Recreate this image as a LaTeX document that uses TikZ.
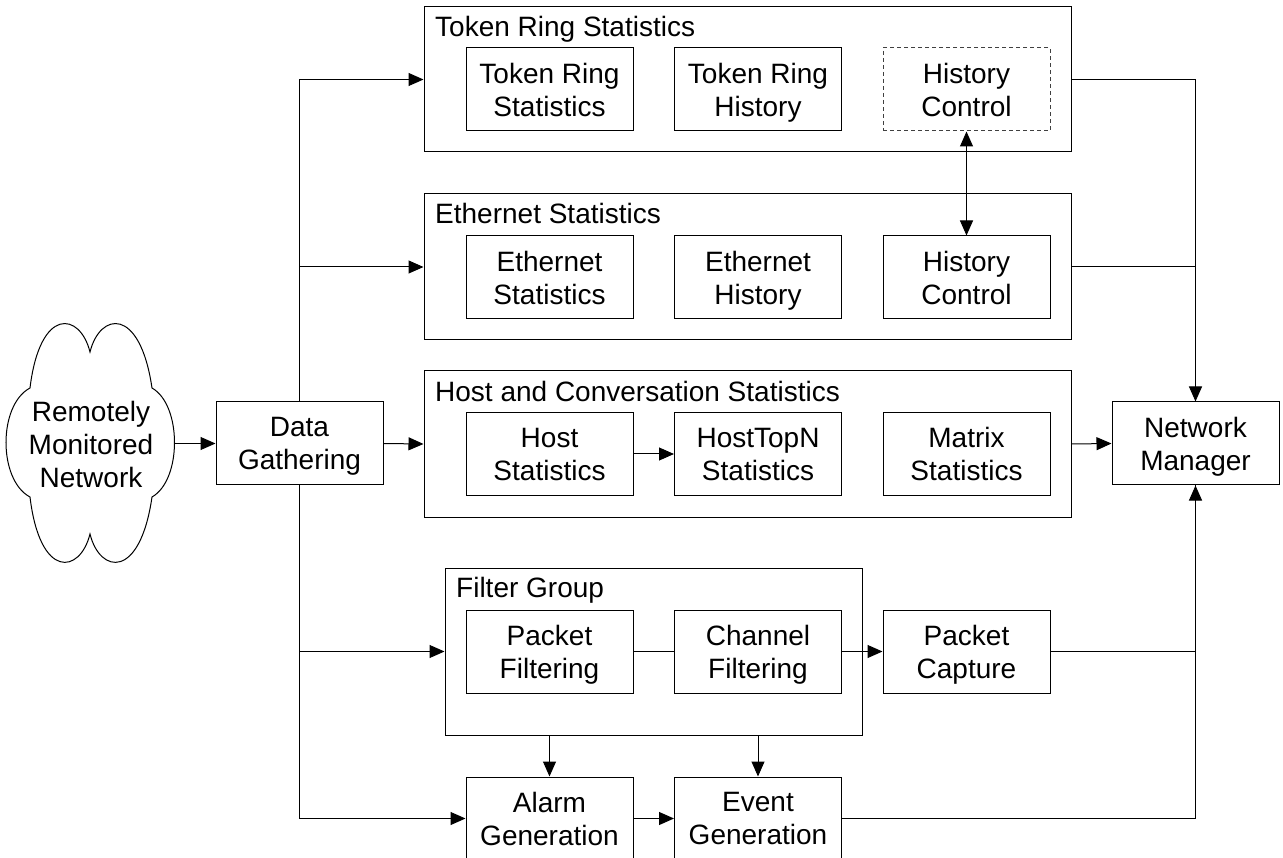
\documentclass[tikz,border=0pt]{standalone}
\usepackage{fontspec}
\setmainfont{Liberation Sans}
\usetikzlibrary{arrows.meta}
\begin{document}
\begin{tikzpicture}[x=1pt,y=-1pt,
  every node/.style={font=\fontsize{28pt}{33pt}\selectfont},
  line/.style={line width=1pt,draw=black},
  tip/.tip={Triangle[length=15pt,width=13pt]},
  arr/.style={line, -tip},
  inbox/.style={draw, line width=1pt, minimum width=167pt, minimum height=83pt, inner sep=0pt, align=center, text depth=0pt},
  dashbox/.style={inbox, draw=black!75, dash pattern=on 4pt off 3pt},
  outbox/.style={draw, line width=1pt, inner sep=0pt},
  ttl/.style={anchor=base west, inner sep=0pt},
]
\useasboundingbox (0,0) rectangle (1283,858);

% cloud
\draw[line] (90,352) .. controls (100,312) and (140,306) .. (152,388)
 .. controls (182,405) and (182,480) .. (152,497)
 .. controls (140,580) and (100,574) .. (90,534)
 .. controls (80,574) and (40,580) .. (30,497)
 .. controls (-2,480) and (-2,405) .. (30,388)
 .. controls (40,306) and (80,312) .. (90,352) -- cycle;
\node[align=center, inner sep=0pt, text depth=0pt] (cloud) at (91,444) {Remotely\\Monitored\\Network};
\coordinate (cloudr) at (174,443.5);

% outer boxes
\node[outbox, minimum width=647pt, minimum height=145pt] (tr) at (747.5,79.5) {};
\node[outbox, minimum width=647pt, minimum height=146pt] (eth) at (747.5,267) {};
\node[outbox, minimum width=647pt, minimum height=146pt] (host) at (747.5,444) {};
\node[outbox, minimum width=417pt, minimum height=167pt] (fg) at (653.5,651.5) {};

\node[ttl] (trt) at (435,37) {Token Ring Statistics};
\node[ttl] (etht) at (435,224) {Ethernet Statistics};
\node[ttl] (hostt) at (435,402) {Host and Conversation Statistics};
\node[ttl] (fgt) at (456,597) {Filter Group};

% inner boxes
\node[inbox] (trs) at (549.5,89.5) {Token Ring\\Statistics};
\node[inbox] (trh) at (758,89.5) {Token Ring\\History};
\node[dashbox] (trc) at (966.5,89.5) {History\\Control};

\node[inbox] (es) at (549.5,277.5) {Ethernet\\Statistics};
\node[inbox] (eh) at (758,277.5) {Ethernet\\History};
\node[inbox] (ec) at (966.5,277.5) {History\\Control};

\node[inbox] (hs) at (549.5,454) {Host\\Statistics};
\node[inbox] (htn) at (758,454) {HostTopN\\Statistics};
\node[inbox] (ms) at (966.5,454) {Matrix\\Statistics};

\node[inbox] (pf) at (549.5,651.5) {Packet\\Filtering};
\node[inbox] (cf) at (758,651.5) {Channel\\Filtering};
\node[inbox] (pc) at (966.5,651.5) {Packet\\Capture};

\node[inbox] (ag) at (549.5,818.5) {Alarm\\Generation};
\node[inbox] (eg) at (758,818.5) {Event\\Generation};

\node[inbox] (dg) at (299.5,443.5) {Data\\Gathering};
\node[inbox] (nm) at (1195.5,443.5) {Network\\Manager};

% connectors
\draw[arr] (cloudr) -- (dg.west);
\draw[arr] (dg.north) |- (tr.west);
\draw[arr] (dg.north) |- (eth.west);
\draw[arr] (dg.east) -- (host.west);
\draw[arr] (dg.south) |- (fg.west);
\draw[arr] (dg.south) |- (ag.west);

\draw[arr] (tr.east) -| (nm.north);
\draw[line] (eth.east) -| (nm.north);
\draw[arr] (host.east) -- (nm.west);
\draw[arr] (pc.east) -| (nm.south);
\draw[line] (eg.east) -| (nm.south);

\draw[line, tip-tip] (trc.south) -- (ec.north);
\draw[arr] (hs.east) -- (htn.west);
\draw[line] (pf.east) -- (cf.west);
\draw[arr] (cf.east) -- (pc.west);
\draw[arr] (ag.north |- fg.south) -- (ag.north);
\draw[arr] (eg.north |- fg.south) -- (eg.north);
\draw[arr] (ag.east) -- (eg.west);
\end{tikzpicture}
\end{document}
